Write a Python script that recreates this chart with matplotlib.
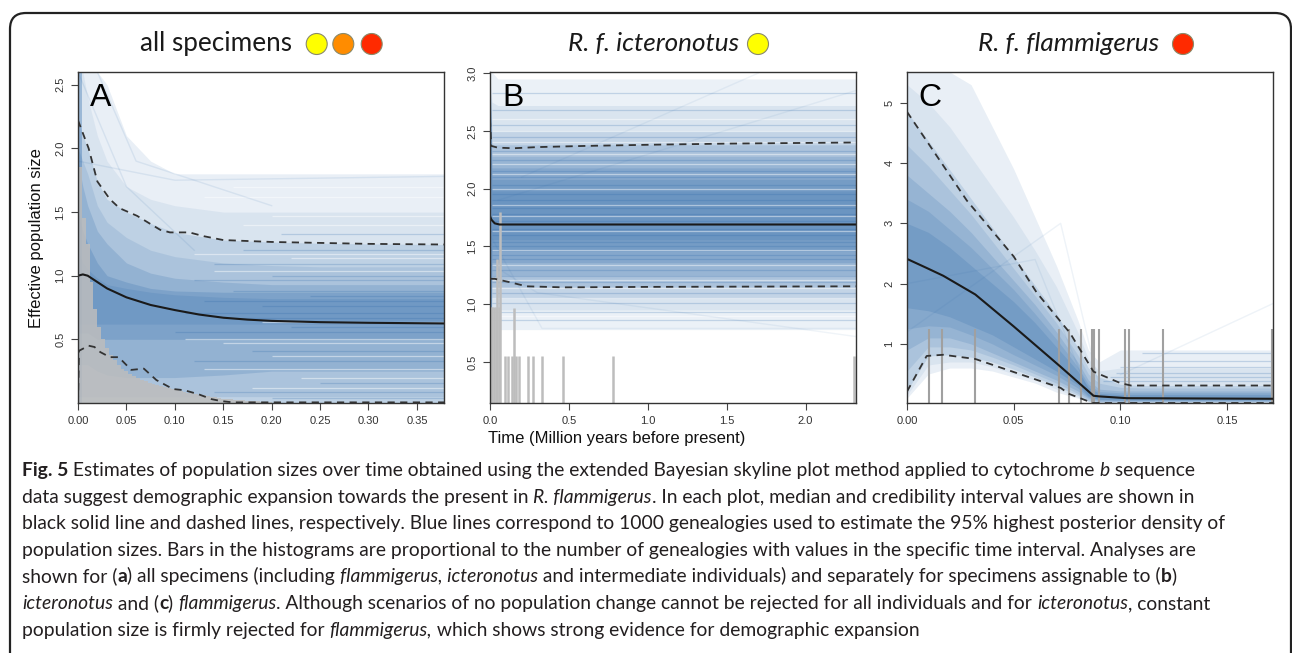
import matplotlib
matplotlib.use("Agg")
import matplotlib.pyplot as plt
from matplotlib.patches import FancyBboxPatch, Circle
from matplotlib.transforms import IdentityTransform

# ---------------- data ----------------
# Panel A (all specimens): blue density envelopes (lower, upper, alpha) on A_BAND_X
A_BAND_X = [0, 0.005, 0.01, 0.02, 0.03, 0.05, 0.075, 0.1, 0.15, 0.2, 0.25, 0.3, 0.378]
A_BANDS = [
    ([0.0] * 13, [2.6, 2.6, 2.6, 2.6, 2.5, 2.1, 1.9, 1.8, 1.8, 1.8, 1.8, 1.8, 1.8], 0.10),
    ([0.0] * 13, [2.6, 2.6, 2.4, 2.1, 1.9, 1.7, 1.6, 1.55, 1.5, 1.5, 1.5, 1.5, 1.5], 0.08),
    ([0.0] * 13, [2.22, 2.1, 2.0, 1.74, 1.6, 1.5, 1.41, 1.34, 1.28, 1.265, 1.255, 1.25, 1.245], 0.15),
    ([0.05] * 13, [2.0, 1.9, 1.8, 1.55, 1.42, 1.3, 1.2, 1.15, 1.1, 1.08, 1.07, 1.07, 1.07], 0.12),
    ([0.3, 0.3, 0.3, 0.25, 0.22, 0.2, 0.2, 0.2, 0.22, 0.25, 0.25, 0.25, 0.25],
     [1.9, 1.7, 1.55, 1.35, 1.25, 1.1, 1.02, 0.98, 0.95, 0.93, 0.93, 0.93, 0.93], 0.18),
    ([0.55, 0.55, 0.55, 0.5, 0.5, 0.5, 0.5, 0.5, 0.5, 0.5, 0.5, 0.5, 0.5],
     [1.5, 1.35, 1.25, 1.1, 1.0, 0.95, 0.9, 0.88, 0.87, 0.87, 0.87, 0.87, 0.87], 0.2),
    ([0.62] * 13, [1.2, 1.1, 1.05, 0.98, 0.93, 0.9, 0.87, 0.85, 0.83, 0.82, 0.82, 0.82, 0.82], 0.15),
]
A_STRIP_X = [0, 0.004]
A_STRIP = ([0.0, 0.0], [2.6, 2.6], 0.35)
A_STREAKS_DARK = [0.04, 0.09, 0.16, 0.33, 0.41, 0.56, 0.6, 0.67, 0.71, 0.76, 0.8, 0.84, 0.88, 0.97, 1.0, 1.09, 1.2, 1.33]
A_STREAKS_DARK_X0 = [0.2, 0.14, 0.25, 0.12, 0.18, 0.1, 0.22, 0.15, 0.11, 0.19, 0.13, 0.24, 0.16, 0.12, 0.2, 0.14, 0.17, 0.21]
A_STREAKS_GAP = [0.12, 0.2, 0.27, 0.37, 0.47, 0.5, 0.64, 1.04, 1.14, 1.17, 1.4, 1.47, 1.62, 1.7]
A_STREAKS_GAP_X0 = [0.18, 0.23, 0.13, 0.2, 0.15, 0.11, 0.19, 0.14, 0.22, 0.12, 0.17, 0.2, 0.13, 0.16]
A_MED_X = [0, 0.005, 0.01, 0.02, 0.03, 0.05, 0.075, 0.1, 0.125, 0.15, 0.175, 0.2, 0.25, 0.3, 0.378]
A_MED_Y = [1.0, 1.01, 1.0, 0.95, 0.9, 0.83, 0.77, 0.73, 0.695, 0.67, 0.655, 0.645, 0.635, 0.63, 0.625]
A_UP_X = [0, 0.002, 0.011, 0.02, 0.033, 0.043, 0.061, 0.074, 0.085, 0.095, 0.115, 0.13, 0.15, 0.2, 0.3, 0.378]
A_UP_Y = [2.22, 2.18, 2.0, 1.74, 1.6, 1.53, 1.47, 1.41, 1.36, 1.34, 1.34, 1.31, 1.28, 1.265, 1.25, 1.245]
A_LO_X = [0, 0.001, 0.011, 0.017, 0.023, 0.033, 0.042, 0.055, 0.068, 0.081, 0.098, 0.11, 0.124, 0.138, 0.148, 0.16, 0.378]
A_LO_Y = [0.0, 0.41, 0.45, 0.44, 0.40, 0.36, 0.36, 0.26, 0.27, 0.18, 0.11, 0.10, 0.07, 0.03, 0.015, 0.005, 0.005]
A_HIST_X = [0.002, 0.006, 0.010, 0.014, 0.018, 0.022, 0.026, 0.030, 0.034, 0.038,
            0.042, 0.046, 0.050, 0.054, 0.058, 0.062, 0.066, 0.070, 0.074, 0.078,
            0.082, 0.086, 0.090, 0.094, 0.098, 0.102, 0.106, 0.110, 0.114, 0.118,
            0.122, 0.126, 0.130, 0.134, 0.138, 0.142, 0.146, 0.150, 0.154, 0.158,
            0.162, 0.166, 0.170, 0.174, 0.178, 0.182, 0.186, 0.190, 0.194, 0.198]
A_HIST_H = [1.85, 1.45, 1.25, 0.95, 0.74, 0.60, 0.50, 0.43, 0.38, 0.34,
            0.30, 0.27, 0.25, 0.23, 0.21, 0.195, 0.18, 0.17, 0.16, 0.15,
            0.14, 0.13, 0.125, 0.115, 0.11, 0.10, 0.095, 0.09, 0.08, 0.075,
            0.07, 0.065, 0.06, 0.055, 0.05, 0.045, 0.04, 0.035, 0.032, 0.03,
            0.027, 0.024, 0.02, 0.018, 0.016, 0.014, 0.012, 0.01, 0.008, 0.006]
A_ODD = [([0.0, 0.05, 0.12], [2.6, 1.7, 1.2]),
         ([0.02, 0.06, 0.2], [2.6, 1.9, 1.55]),
         ([0.0, 0.1, 0.378], [1.9, 1.75, 1.78])]

# Panel B (R. f. icteronotus)
B_BAND_X = [0, 0.012, 0.05, 2.32]
B_BANDS = [  # (lower, upper, alpha)
    ([0.15, 0.78, 0.78, 0.78], [3.01, 3.01, 2.95, 2.95], 0.09),
    ([0.15, 0.95, 0.95, 0.95], [3.01, 2.75, 2.72, 2.72], 0.09),
    ([0.15, 1.05, 1.05, 1.05], [3.01, 2.5, 2.5, 2.5], 0.12),
    ([0.15, 1.15, 1.15, 1.15], [3.01, 2.38, 2.38, 2.38], 0.15),
    ([0.15, 1.25, 1.25, 1.25], [3.01, 2.28, 2.28, 2.28], 0.15),
    ([0.15, 1.36, 1.36, 1.36], [3.01, 2.18, 2.18, 2.18], 0.17),
    ([0.15, 1.46, 1.46, 1.46], [3.01, 2.08, 2.08, 2.08], 0.17),
    ([0.15, 1.56, 1.56, 1.56], [3.01, 1.98, 1.98, 1.98], 0.12),
]
B_STREAKS_DARK = [0.86, 0.93, 1.01, 1.1, 1.19, 1.24, 1.3, 1.39, 1.43, 1.5, 1.54, 1.6, 1.65,
                  1.72, 1.78, 1.83, 1.9, 1.95, 2.03, 2.1, 2.15, 2.25, 2.33, 2.45, 2.55, 2.68, 2.83]
B_STREAKS_GAP = [0.9, 1.05, 1.14, 1.21, 1.34, 1.47, 1.63, 1.76, 1.86, 2.0, 2.13, 2.21, 2.3,
                 2.4, 2.5, 2.6]
B_MED_X = [0, 0.01, 0.03, 0.06, 2.32]
B_MED_Y = [1.76, 1.73, 1.70, 1.69, 1.69]
B_UP_X = [0, 0.008, 0.05, 0.15, 0.3, 0.6, 1.0, 1.5, 2.32]
B_UP_Y = [2.6, 2.37, 2.355, 2.35, 2.36, 2.37, 2.38, 2.39, 2.40]
B_LO_X = [0, 0.03, 0.127, 0.232, 0.466, 1.0, 2.32]
B_LO_Y = [1.22, 1.22, 1.19, 1.155, 1.146, 1.15, 1.155]
B_BAR_X = [0.005, 0.015, 0.025, 0.035, 0.045, 0.055, 0.063, 0.095, 0.116, 0.137,
           0.154, 0.165, 0.184, 0.238, 0.274, 0.329, 0.46, 0.78, 2.31]
B_BAR_H = [0.98, 0.98, 0.98, 0.98, 1.39, 0.98, 1.80, 0.55, 0.55, 0.55,
           0.97, 0.55, 0.55, 0.55, 0.55, 0.55, 0.55, 0.55, 0.55]
B_ODD = [([0.0, 0.33, 2.32], [1.6, 0.79, 0.79]),
         ([0.0, 0.3, 2.32], [1.35, 1.1, 0.72]),
         ([0.05, 2.32], [1.9, 2.85]),
         ([0.2, 1.7], [2.1, 3.0])]

# Panel C (R. f. flammigerus)
C_BAND_X = [0, 0.01, 0.02, 0.03, 0.04, 0.05, 0.06, 0.07, 0.08, 0.085, 0.09, 0.1, 0.11, 0.1715]
C_BANDS = [  # (lower, upper, alpha)
    ([0.1, 0.5, 0.6, 0.6, 0.55, 0.45, 0.35, 0.2, 0.1, 0.05, 0.03, 0.03, 0.03, 0.03],
     [5.51, 5.51, 5.51, 5.3, 4.6, 3.9, 3.1, 2.3, 1.4, 0.9, 0.7, 0.9, 0.9, 0.9], 0.10),
    ([0.15, 0.65, 0.7, 0.7, 0.62, 0.5, 0.4, 0.25, 0.12, 0.04, 0.03, 0.03, 0.03, 0.03],
     [5.3, 5.0, 4.6, 4.1, 3.6, 3.1, 2.55, 1.95, 1.2, 0.75, 0.55, 0.6, 0.6, 0.6], 0.08),
    ([0.22, 0.8, 0.82, 0.78, 0.7, 0.58, 0.45, 0.3, 0.15, 0.05, 0.03, 0.03, 0.03, 0.03],
     [4.85, 4.37, 3.89, 3.41, 2.93, 2.45, 1.97, 1.49, 0.95, 0.6, 0.45, 0.33, 0.31, 0.31], 0.15),
    ([0.55, 0.95, 0.95, 0.9, 0.78, 0.65, 0.5, 0.35, 0.18, 0.07, 0.04, 0.04, 0.04, 0.04],
     [4.3, 3.95, 3.55, 3.15, 2.7, 2.25, 1.8, 1.35, 0.82, 0.5, 0.35, 0.28, 0.27, 0.27], 0.12),
    ([0.9, 1.1, 1.1, 1.0, 0.85, 0.7, 0.55, 0.4, 0.22, 0.1, 0.05, 0.05, 0.05, 0.05],
     [3.8, 3.5, 3.2, 2.85, 2.45, 2.05, 1.65, 1.2, 0.7, 0.4, 0.25, 0.22, 0.22, 0.22], 0.16),
    ([1.25, 1.3, 1.28, 1.15, 1.0, 0.82, 0.65, 0.48, 0.27, 0.12, 0.07, 0.06, 0.06, 0.06],
     [3.4, 3.2, 2.9, 2.6, 2.25, 1.9, 1.5, 1.08, 0.62, 0.33, 0.21, 0.19, 0.19, 0.19], 0.15),
    ([1.6, 1.55, 1.45, 1.3, 1.15, 0.95, 0.75, 0.55, 0.32, 0.14, 0.08, 0.07, 0.07, 0.07],
     [3.0, 2.85, 2.6, 2.3, 2.0, 1.7, 1.35, 0.95, 0.55, 0.28, 0.18, 0.16, 0.16, 0.16], 0.18),
]
C_STREAKS_DARK = [0.38, 0.45, 0.52, 0.62, 0.72, 0.85]
C_STREAKS_DARK_X0 = [0.092, 0.095, 0.098, 0.1, 0.104, 0.11]
C_MED_X = [0, 0.0092, 0.017, 0.032, 0.05, 0.072, 0.0874, 0.09, 0.103, 0.1715]
C_MED_Y = [2.41, 2.26, 2.13, 1.82, 1.29, 0.62, 0.14, 0.13, 0.10, 0.09]
C_UP_X = [0, 0.028, 0.05, 0.0608, 0.0764, 0.0874, 0.1, 0.105, 0.1715]
C_UP_Y = [4.85, 3.38, 2.45, 1.85, 1.18, 0.54, 0.35, 0.31, 0.31]
C_LO_X = [0, 0.0092, 0.017, 0.032, 0.072, 0.076, 0.087, 0.1715]
C_LO_Y = [0.21, 0.80, 0.82, 0.75, 0.27, 0.17, 0.02, 0.02]
C_BAR_X = [0.0105, 0.0164, 0.032, 0.0714, 0.0758, 0.0817, 0.0868, 0.0873, 0.0878,
           0.0901, 0.1023, 0.1039, 0.1201, 0.171]
C_BAR_H = [1.25] * len(C_BAR_X)
C_ODD = [([0.1, 0.1715], [0.49, 1.67]),
         ([0.0, 0.072, 0.09], [1.2, 3.0, 0.3]),
         ([0.0, 0.06, 0.085], [2.0, 2.4, 0.2])]

# text
TITLES = ["all specimens", "R. f. icteronotus", "R. f. flammigerus"]
LETTERS = ["A", "B", "C"]
DOT_COLORS = [["#FFFF00", "#FF8C00", "#FF2A00"], ["#FFFF00"], ["#FF2A00"]]
X_TICKS = [[0.0, 0.05, 0.10, 0.15, 0.20, 0.25, 0.30, 0.35],
           [0.0, 0.5, 1.0, 1.5, 2.0],
           [0.0, 0.05, 0.10, 0.15]]
X_TICKLABELS = [["0.00", "0.05", "0.10", "0.15", "0.20", "0.25", "0.30", "0.35"],
                ["0.0", "0.5", "1.0", "1.5", "2.0"],
                ["0.00", "0.05", "0.10", "0.15"]]
Y_TICKS = [[0.5, 1.0, 1.5, 2.0, 2.5], [0.5, 1.0, 1.5, 2.0, 2.5, 3.0], [1, 2, 3, 4, 5]]
Y_TICKLABELS = [["0.5", "1.0", "1.5", "2.0", "2.5"],
                ["0.5", "1.0", "1.5", "2.0", "2.5", "3.0"],
                ["1", "2", "3", "4", "5"]]
CAPTION = [
    [("Fig. 5", "b"), (" Estimates of population sizes over time obtained using the extended Bayesian skyline plot method applied to cytochrome ", "n"), ("b", "i"), (" sequence", "n")],
    [("data suggest demographic expansion towards the present in ", "n"), ("R. flammigerus", "i"), (". In each plot, median and credibility interval values are shown in", "n")],
    [("black solid line and dashed lines, respectively. Blue lines correspond to 1000 genealogies used to estimate the 95% highest posterior density of", "n")],
    [("population sizes. Bars in the histograms are proportional to the number of genealogies with values in the specific time interval. Analyses are", "n")],
    [("shown for (", "n"), ("a", "b"), (") all specimens (including ", "n"), ("flammigerus, icteronotus", "i"), (" and intermediate individuals) and separately for specimens assignable to (", "n"), ("b", "b"), (")", "n")],
    [("icteronotus", "i"), (" and (", "n"), ("c", "b"), (") ", "n"), ("flammigerus", "i"), (". Although scenarios of no population change cannot be rejected for all individuals and for ", "n"), ("icteronotus", "i"), (", constant", "n")],
    [("population size is firmly rejected for ", "n"), ("flammigerus,", "i"), (" which shows strong evidence for demographic expansion", "n")],
]
CAPTION_LINE_ENDS = [1207, 1181, 1208, 1190, 1182, 1206]

# ---------------- figure ----------------
W, H = 1292, 653
fig = plt.figure(figsize=(W / 100, H / 100), dpi=100)
fig.patch.set_facecolor("white")
PIX = IdentityTransform()

BLUE = (0.16, 0.40, 0.66)
GRAY_BAR = "#BDBDBD"
SANS = ["Liberation Sans", "DejaVu Sans"]
CAPF = ["Lato", "DejaVu Sans"]


def ax_at(l, r, t, b):
    return fig.add_axes([l / W, (H - b) / H, (r - l) / W, (b - t) / H])


def style_axis(ax, i, xlim, ylim):
    ax.set_xlim(*xlim)
    ax.set_ylim(*ylim)
    ax.set_xticks(X_TICKS[i])
    ax.set_xticklabels(X_TICKLABELS[i])
    ax.set_yticks(Y_TICKS[i])
    ax.set_yticklabels(Y_TICKLABELS[i], rotation=90, va="center")
    ax.tick_params(direction="out", length=5, width=0.8, color="#444444",
                   labelsize=8, labelcolor="#333333", pad=4)
    for lab in ax.get_xticklabels() + ax.get_yticklabels():
        lab.set_family(SANS)
    for s in ax.spines.values():
        s.set_color("#333333")
        s.set_linewidth(1.0)
        s.set_zorder(6)
    ax.set_facecolor("white")


def bands(ax, xs, band_list):
    for lo, up, al in band_list:
        ax.fill_between(xs, lo, up, color=BLUE, alpha=al, lw=0, zorder=1)


def streaks(ax, x1, dark, dark_x0, gap, gap_x0):
    if dark:
        ax.hlines(dark, dark_x0, x1, color=BLUE, alpha=0.22, lw=0.9, zorder=1.5)
    if gap:
        ax.hlines(gap, gap_x0, x1, color="white", alpha=0.45, lw=0.9, zorder=1.6)


def black_lines(ax, mx, my, ux, uy, lx, ly):
    ax.plot(mx, my, color="#1a1a1a", lw=1.5, zorder=5)
    ax.plot(ux, uy, color="#333333", lw=1.3, ls=(0, (4, 3)), zorder=5)
    ax.plot(lx, ly, color="#333333", lw=1.3, ls=(0, (4, 3)), zorder=5)


# Panel A
axA = ax_at(78, 444, 72, 403)
bands(axA, A_BAND_X, A_BANDS)
axA.fill_between(A_STRIP_X, A_STRIP[0], A_STRIP[1], color=BLUE, alpha=A_STRIP[2], lw=0, zorder=1)
streaks(axA, 0.378, A_STREAKS_DARK, A_STREAKS_DARK_X0, A_STREAKS_GAP, A_STREAKS_GAP_X0)
for xs, ys in A_ODD:
    axA.plot(xs, ys, color=BLUE, alpha=0.1, lw=1, zorder=2)
axA.bar(A_HIST_X, A_HIST_H, width=0.004, color=GRAY_BAR, alpha=0.85, lw=0, zorder=3)
black_lines(axA, A_MED_X, A_MED_Y, A_UP_X, A_UP_Y, A_LO_X, A_LO_Y)
style_axis(axA, 0, (0, 0.378), (0.0, 2.6))

# Panel B
axB = ax_at(490, 856, 72, 403)
bands(axB, B_BAND_X, B_BANDS)
streaks(axB, 2.32, B_STREAKS_DARK, 0.012, B_STREAKS_GAP, 0.012)
for xs, ys in B_ODD:
    axB.plot(xs, ys, color=BLUE, alpha=0.07, lw=1, zorder=2)
axB.vlines(B_BAR_X, 0.145, B_BAR_H, color=GRAY_BAR, lw=1.8, zorder=3)
black_lines(axB, B_MED_X, B_MED_Y, B_UP_X, B_UP_Y, B_LO_X, B_LO_Y)
style_axis(axB, 1, (0, 2.32), (0.145, 3.01))

# Panel C
axC = ax_at(907, 1273, 72, 403)
bands(axC, C_BAND_X, C_BANDS)
streaks(axC, 0.1715, C_STREAKS_DARK, C_STREAKS_DARK_X0, [], [])
for xs, ys in C_ODD:
    axC.plot(xs, ys, color=BLUE, alpha=0.08, lw=1, zorder=2)
axC.vlines(C_BAR_X, 0.02, C_BAR_H, color="#A0A0A0", lw=1.5, zorder=3)
black_lines(axC, C_MED_X, C_MED_Y, C_UP_X, C_UP_Y, C_LO_X, C_LO_Y)
style_axis(axC, 2, (0, 0.1715), (0.02, 5.51))

# panel letters
for x0, letter in zip([90, 502, 918], LETTERS):
    fig.text(x0, H - 106, letter, transform=PIX, fontsize=23, family=SANS,
             ha="left", va="baseline", color="black", zorder=10)

# titles and dots
title_x = [(140, False), (568, True), (978, True)]
dot_pos = [[316.7, 343.3, 371.7], [758], [1183]]
for (tx, ital), title, dots, cols in zip(title_x, TITLES, dot_pos, DOT_COLORS):
    fig.text(tx, H - 51, title, transform=PIX, fontsize=18.8, family=CAPF,
             style="italic" if ital else "normal", ha="left", va="baseline",
             color="#1a1a1a")
    for dx, c in zip(dots, cols):
        fig.patches.append(Circle((dx, H - 44), 10.5, transform=PIX, facecolor=c,
                                  edgecolor="#8a8a6a", lw=0.8))

# axis labels
fig.text(37, H - 238, "Effective population size", transform=PIX, rotation=90,
         fontsize=12, family=SANS, ha="center", va="center", color="#111111")
fig.text(617, H - 438, "Time (Million years before present)", transform=PIX,
         fontsize=12, family=SANS, ha="center", va="center", color="#111111")

# border
fig.patches.append(FancyBboxPatch((10, -60), 1281, H - 13 + 60,
                                  boxstyle="round,pad=0,rounding_size=16",
                                  transform=PIX, fill=False, edgecolor="#222222", lw=1.6))

# caption
renderer = fig.canvas.get_renderer()


def props(kind, size):
    d = dict(fontsize=size, family=CAPF, color="#231F20")
    if kind == "b":
        d["weight"] = "bold"
    if kind == "i":
        d["style"] = "italic"
    return d


def width_of(s, kind, size):
    t1 = fig.text(0, 0, "|" + s + "|", transform=PIX, **props(kind, size))
    t2 = fig.text(0, 0, "||", transform=PIX, **props(kind, size))
    w = t1.get_window_extent(renderer).width - t2.get_window_extent(renderer).width
    t1.remove()
    t2.remove()
    return w


base = 12.0
w_sum = sum(sum(width_of(s, k, base) for s, k in CAPTION[i]) for i in range(6))
t_sum = sum(e - 22 for e in CAPTION_LINE_ENDS)
cap_size = base * t_sum / w_sum

for li, runs in enumerate(CAPTION):
    x = 22.0
    yb = H - (476 + li * 26.6)
    for s, k in runs:
        fig.text(x, yb, s, transform=PIX, ha="left", va="baseline", **props(k, cap_size))
        x += width_of(s, k, cap_size)

fig.savefig("out.png", dpi=100, facecolor="white")
